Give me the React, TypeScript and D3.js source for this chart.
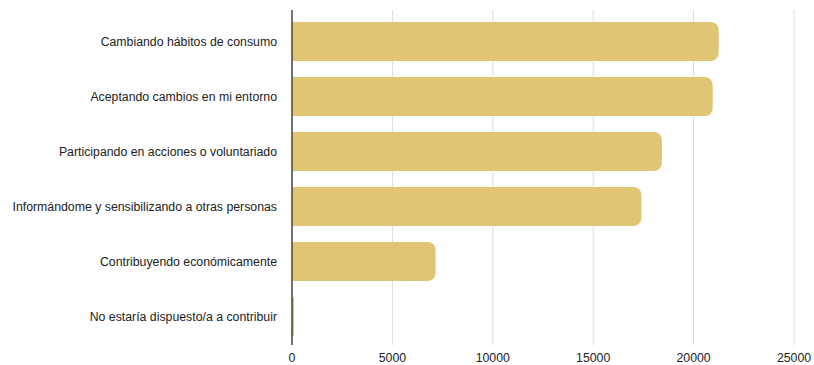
import React from "react";
import * as d3 from "d3";

const categories = [
  "Cambiando hábitos de consumo",
  "Aceptando cambios en mi entorno",
  "Participando en acciones o voluntariado",
  "Informándome y sensibilizando a otras personas",
  "Contribuyendo económicamente",
  "No estaría dispuesto/a a contribuir",
];
const values = [21250, 20950, 18420, 17400, 7150, 100];
const xTicks = [0, 5000, 10000, 15000, 20000, 25000];

const W = 814;
const H = 365;
const x0 = 292;
const x1 = 794;
const yTop = 10;
const yBottom = 345;

export default function App() {
  const x = d3.scaleLinear().domain([0, 25000]).range([x0, x1]);
  const y = d3
    .scaleBand<string>()
    .domain(categories)
    .range([14, 344])
    .paddingInner(0.29)
    .paddingOuter(0.145);
  const bw = y.bandwidth();
  const font = "'Liberation Sans', Arial, Helvetica, sans-serif";

  return (
    <svg
      width={W}
      height={H}
      style={{ position: "absolute", left: 0, top: 0, background: "#fff" }}
    >
      {xTicks.map((t) => (
        <line
          key={"g" + t}
          x1={x(t)}
          x2={x(t)}
          y1={yTop}
          y2={yBottom}
          stroke="#dcdcdc"
          strokeWidth={1}
        />
      ))}
      {categories.map((c, i) => {
        const w = x(values[i]) - x0;
        const r = Math.min(8, w / 2);
        const yy = y(c)!;
        // rectangle flush on the axis, rounded on the right end
        const p = d3.path();
        p.moveTo(x0, yy);
        p.lineTo(x0 + w - r, yy);
        p.arcTo(x0 + w, yy, x0 + w, yy + r, r);
        p.lineTo(x0 + w, yy + bw - r);
        p.arcTo(x0 + w, yy + bw, x0 + w - r, yy + bw, r);
        p.lineTo(x0, yy + bw);
        p.closePath();
        return <path key={c} d={p.toString()} fill="#dfc574" />;
      })}
      <line x1={x0} x2={x0} y1={yTop} y2={yBottom} stroke="#222" strokeWidth={1.2} />
      {categories.map((c) => (
        <text
          key={"l" + c}
          x={277}
          y={y(c)! + bw / 2}
          textAnchor="end"
          dominantBaseline="central"
          fontFamily={font}
          fontSize={12.3}
          fill="#222"
        >
          {c}
        </text>
      ))}
      {xTicks.map((t) => (
        <text
          key={"t" + t}
          x={x(t)}
          y={358}
          textAnchor="middle"
          dominantBaseline="central"
          fontFamily={font}
          fontSize={12.3}
          fill="#222"
        >
          {t}
        </text>
      ))}
    </svg>
  );
}
